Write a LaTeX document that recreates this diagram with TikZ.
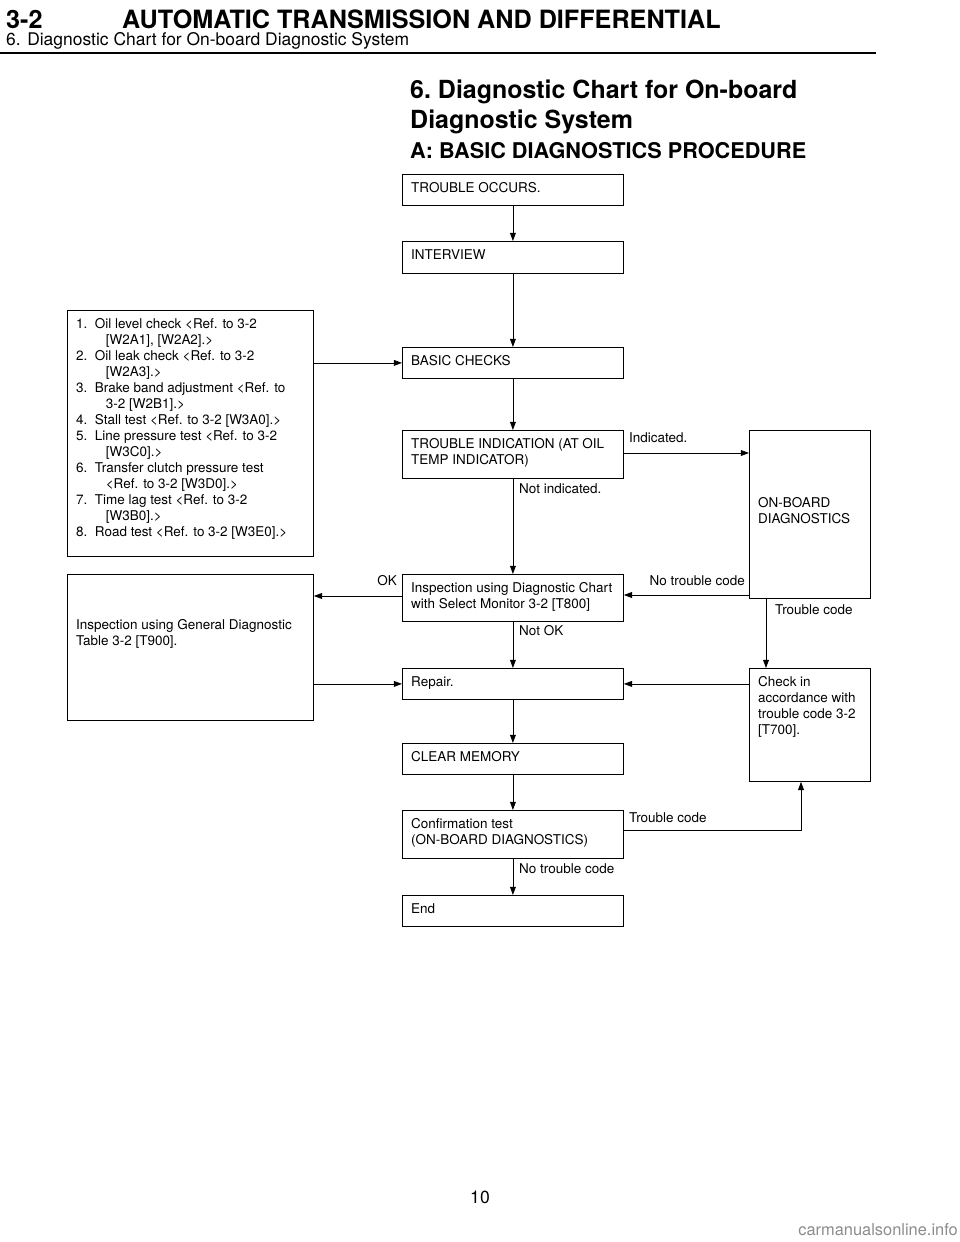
\documentclass[tikz,border=0pt]{standalone}
\usepackage{fontspec}
\setmainfont{TeX Gyre Heros}
\usetikzlibrary{arrows.meta}
\begin{document}
\begin{tikzpicture}[x=0.03cm,y=-0.03cm,
  boxs/.style={draw,line width=0.7pt,inner sep=0pt},
  txt/.style={anchor=north west,inner sep=0pt,align=left,font=\fontsize{11.5}{13.7}\selectfont},
  lbl/.style={inner sep=0pt,font=\fontsize{11.5}{14}\selectfont},
  arr/.style={line width=0.7pt,-{Triangle[length=7pt,width=5pt]}},
  ln/.style={line width=0.7pt}]
\useasboundingbox (0,0) rectangle (960,1242);
\newcommand{\bx}[6]{%
  \node[boxs,anchor=north west,minimum width={(#4-#2)*0.03cm},minimum height={(#5-#3)*0.03cm}] (#1) at (#2,#3) {};
  \node[txt] (#1t) at (#2+9,#3+8) {#6};}
% header
\node[anchor=west,inner sep=0pt,font=\bfseries\fontsize{21.5}{22}\selectfont] (h1) at (6,19) {3-2};
\node[anchor=west,inner sep=0pt,font=\bfseries\fontsize{21.5}{22}\selectfont] (h2) at (122,19) {AUTOMATIC TRANSMISSION AND DIFFERENTIAL};
\node[anchor=west,inner sep=0pt,font=\fontsize{14.9}{16}\selectfont] (h3) at (6,41) {6. Diagnostic Chart for On-board Diagnostic System};
\draw[line width=2.2pt] (0,53) -- (876,53);
\node[anchor=north west,inner sep=0pt,align=left,font=\bfseries\fontsize{21.3}{25}\selectfont] (t1) at (410,80) {6.\ Diagnostic Chart for On-board\\Diagnostic System};
\node[anchor=west,inner sep=0pt,font=\bfseries\fontsize{18.5}{20}\selectfont] (t2) at (410,151) {A: BASIC DIAGNOSTICS PROCEDURE};
% boxes
\bx{occ}{402}{174}{623}{205}{TROUBLE OCCURS.}
\bx{int}{402}{241}{623}{273}{INTERVIEW}
\bx{bas}{402}{347}{623}{378}{BASIC CHECKS}
\bx{lst}{67}{310}{313}{556}{\fontsize{11.5}{14.5}\selectfont 1.\ \ Oil level check <Ref. to 3-2\\\hspace{2.2em}[W2A1], [W2A2].>\\2.\ \ Oil leak check <Ref. to 3-2\\\hspace{2.2em}[W2A3].>\\3.\ \ Brake band adjustment <Ref. to\\\hspace{2.2em}3-2 [W2B1].>\\4.\ \ Stall test <Ref. to 3-2 [W3A0].>\\5.\ \ Line pressure test <Ref. to 3-2\\\hspace{2.2em}[W3C0].>\\6.\ \ Transfer clutch pressure test\\\hspace{2.2em}<Ref. to 3-2 [W3D0].>\\7.\ \ Time lag test <Ref. to 3-2\\\hspace{2.2em}[W3B0].>\\8.\ \ Road test <Ref. to 3-2 [W3E0].>}
\bx{ind}{402}{430}{623}{478}{TROUBLE INDICATION (AT OIL\\TEMP INDICATOR)}
\bx{obd}{749}{430}{870}{598}{}
\node[txt] (obdt) at (758,497) {ON-BOARD\\DIAGNOSTICS};
\bx{ins}{402}{574}{623}{621}{Inspection using Diagnostic Chart\\with Select Monitor 3-2 [T800]}
\bx{gen}{67}{574}{313}{720}{}
\node[txt] (gent) at (76,619) {Inspection using General Diagnostic\\Table 3-2 [T900].};
\bx{rep}{402}{668}{623}{699}{Repair.}
\bx{chk}{749}{668}{870}{781}{Check in\\accordance with\\trouble code 3-2\\{}[T700].}
\bx{clr}{402}{743}{623}{774}{CLEAR MEMORY}
\bx{cnf}{402}{810}{623}{858}{Confirmation test\\(ON-BOARD DIAGNOSTICS)}
\bx{end}{402}{895}{623}{926}{End}
% connectors
\draw[arr] (occ.south) -- (int.north);
\draw[arr] (int.south) -- (bas.north);
\draw[arr] (bas.south) -- (ind.north);
\draw[arr] (lst.east |- bas.west) -- (bas.west);
\draw[arr] (ind.south) -- (ins.north);
\draw[arr] (ind.east |- 0,453) -- (obd.west |- 0,453);
\draw[arr] (obd.west |- 0,595) -- (ins.east |- 0,595);
\draw[arr] (ins.west |- 0,596) -- (gen.east |- 0,596);
\draw[arr] (766,598) -- (766,668);
\draw[arr] (ins.south) -- (rep.north);
\draw[arr] (chk.west |- rep.east) -- (rep.east);
\draw[arr] (gen.east |- rep.west) -- (rep.west);
\draw[arr] (rep.south) -- (clr.north);
\draw[arr] (clr.south) -- (cnf.north);
\draw[arr] (cnf.south) -- (end.north);
\coordinate (cc) at (801,830);
\draw[arr] (cnf.east |- cc) -- (cc) -- (chk.south -| cc);
% labels
\node[lbl,anchor=west] (l1) at (629,438) {Indicated.};
\node[lbl,anchor=west] (l2) at (519,489) {Not indicated.};
\node[lbl,anchor=east] (l3) at (745,581) {No trouble code};
\node[lbl,anchor=east] (l4) at (397,581) {OK};
\node[lbl,anchor=west] (l5) at (519,631) {Not OK};
\node[lbl,anchor=west] (l6) at (775,610) {Trouble code};
\node[lbl,anchor=west] (l7) at (629,818) {Trouble code};
\node[lbl,anchor=west] (l8) at (519,869) {No trouble code};
\node[lbl,font=\fontsize{15}{16}\selectfont] (pg) at (480,1197) {10};
\node[lbl,anchor=east,text=black!45,font=\fontsize{14}{15}\selectfont] (wm) at (958,1230) {carmanualsonline.info};
\end{tikzpicture}
\end{document}
